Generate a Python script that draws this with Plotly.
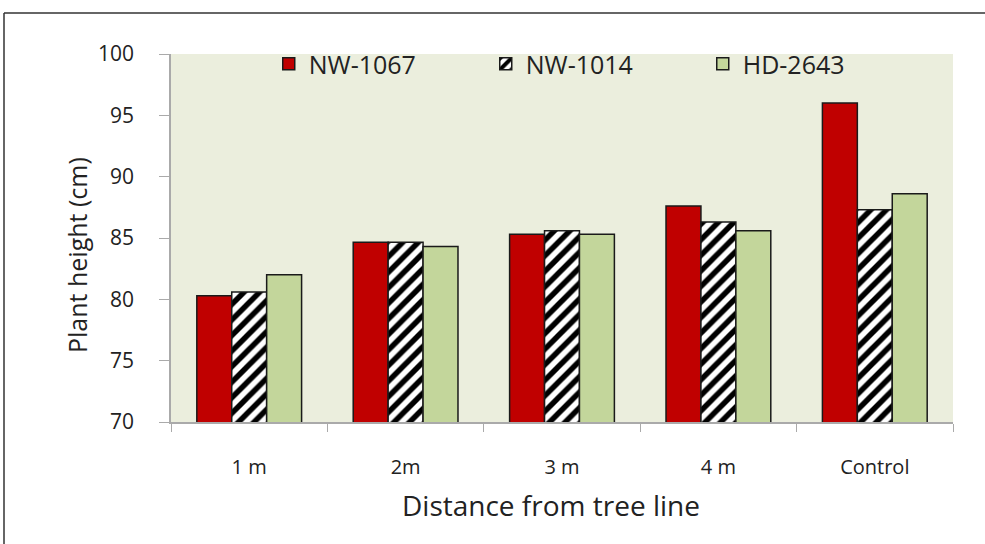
import plotly.graph_objects as go

categories = ["1 m", "2m", "3 m", "4 m", "Control"]
nw1067 = [80.3, 84.65, 85.3, 87.6, 96.0]
nw1014 = [80.6, 84.65, 85.6, 86.3, 87.3]
hd2643 = [82.0, 84.3, 85.3, 85.6, 88.6]
y_ticks = [70, 75, 80, 85, 90, 95, 100]

FONT = "Open Sans"
line = dict(color="#1a1a1a", width=1.5)

fig = go.Figure()
fig.add_trace(go.Bar(name="NW-1067", x=categories, y=nw1067,
                     marker=dict(color="#C00000", line=line)))
fig.add_trace(go.Bar(name="NW-1014", x=categories, y=nw1014,
                     marker=dict(color="white", line=line,
                                 pattern=dict(shape="/", fgcolor="black", bgcolor="white",
                                              fgopacity=1, size=11, solidity=0.5,
                                              fillmode="overlay"))))
fig.add_trace(go.Bar(name="HD-2643", x=categories, y=hd2643,
                     marker=dict(color="#C3D69B", line=line)))

PW, PH, L, T = 782, 368, 171, 54

fig.update_layout(
    width=985, height=544,
    margin=dict(l=L, r=985 - L - PW, t=T, b=544 - T - PH),
    barmode="group", bargap=0.33, bargroupgap=0,
    plot_bgcolor="#EBEEDD", paper_bgcolor="white",
    font=dict(family=FONT, color="#222222"),
    showlegend=True,
    legend=dict(orientation="h", x=0.125, xanchor="left", y=1.035, yanchor="top",
                bgcolor="rgba(0,0,0,0)", font=dict(size=25, family=FONT, color="#222"),
                itemwidth=30, entrywidthmode="pixels", entrywidth=172,
                traceorder="normal"),
    xaxis=dict(showgrid=False, showline=True, linecolor="#aaaaaa", linewidth=1.5,
               ticks="outside", tickson="boundaries", ticklen=8, tickcolor="#aaaaaa",
               tickfont=dict(size=20, family=FONT, color="#222"), ticklabelstandoff=26),
    yaxis=dict(range=[70, 100], tickvals=y_ticks, showgrid=False, zeroline=False,
               showline=True, linecolor="#aaaaaa", linewidth=1.5,
               ticks="outside", ticklen=10, tickcolor="#aaaaaa",
               tickfont=dict(size=21, family=FONT, color="#222"), ticklabelstandoff=21),
)

# axis titles as annotations (positioned like the reference)
fig.add_annotation(text="Distance from tree line", xref="paper", yref="paper",
                   x=(551 - L) / PW, y=(T + PH - 505) / PH, xanchor="center", yanchor="middle",
                   showarrow=False, font=dict(size=28, family=FONT, color="#222"))
fig.add_annotation(text="Plant height (cm)", xref="paper", yref="paper", textangle=-90,
                   x=(77 - L) / PW, y=(T + PH - 255) / PH, xanchor="center", yanchor="middle",
                   showarrow=False, font=dict(size=25, family=FONT, color="#222"))

# outer frame (top and left edges visible as in reference)
fy = (T + PH - 13) / PH
fx = (4 - L) / PW
fig.add_shape(type="line", xref="paper", yref="paper",
              x0=fx, x1=1.1, y0=fy, y1=fy, line=dict(color="#333333", width=1.5))
fig.add_shape(type="line", xref="paper", yref="paper",
              x0=fx, x1=fx, y0=fy, y1=-0.5, line=dict(color="#333333", width=1.5))

fig.write_html("out.html", config={"displayModeBar": False},
               post_script="document.body.style.margin='0px';")
